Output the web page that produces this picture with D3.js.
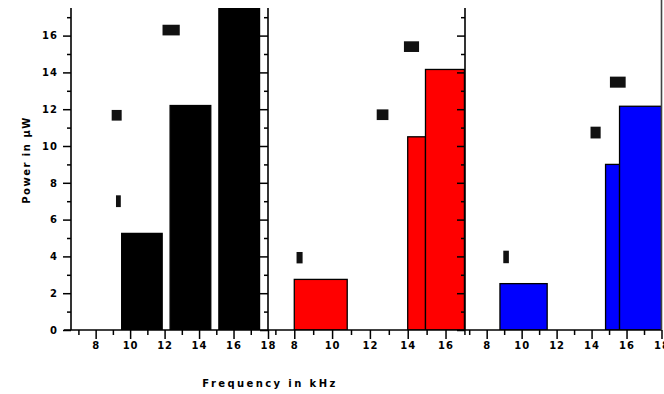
<!DOCTYPE html>
<html>
<head>
<meta charset="utf-8">
<script src="https://cdn.jsdelivr.net/npm/d3@7"></script>
<style>
  body { margin: 0; background: #fff; }
  svg { display: block; }
  .axis text { font-family: "DejaVu Sans", sans-serif; font-weight: bold; font-size: 10px; letter-spacing: 1px; fill: #000; }
  .axis path, .axis line { stroke: #000; stroke-width: 1.5; }
  .title { font-family: "DejaVu Sans", sans-serif; font-weight: bold; font-size: 10px; letter-spacing: 2.4px; fill: #000; }
</style>
</head>
<body>
<div id="chart"></div>
<script>
// y axis (power, µW)
var yMajor = [0, 2, 4, 6, 8, 10, 12, 14, 16];
var yMinor = [1, 3, 5, 7, 9, 11, 13, 15, 17];
var yDomain = [0, 17.5];

// x axis (frequency, kHz) for each of the three panels
var xDomainA = [6.57, 18.0];
var xDomainB = [6.61, 17.03];
var xDomainC = [6.76, 18.0];
var xMajorA = [8, 10, 12, 14, 16, 18];
var xMajorB = [8, 10, 12, 14, 16];
var xMajorC = [8, 10, 12, 14, 16, 18];
var xMinor = [7, 9, 11, 13, 15, 17];

// bars: frequency from / to, power
var barLoA = [9.51, 12.32, 15.15];
var barHiA = [11.86, 14.68, 17.51];
var barValA = [5.25, 12.2, 19];

var barLoB = [8.0, 14.0, 14.94];
var barHiB = [10.8, 14.94, 17.0];
var barValB = [2.75, 10.5, 14.16];

var barLoC = [8.76, 14.8, 15.6];
var barHiC = [11.46, 15.6, 18.0];
var barValC = [2.52, 9.0, 12.16];

// black markers: centre frequency, half span, centre power, half span
var mkXA = [9.22, 9.32, 12.38];
var mkDxA = [0.29, 0.14, 0.5];
var mkYA = [11.67, 7.0, 16.3];
var mkDyA = [0.29, 0.32, 0.29];

var mkXB = [12.67, 8.28, 14.2];
var mkDxB = [0.31, 0.16, 0.4];
var mkYB = [11.7, 3.93, 15.4];
var mkDyB = [0.29, 0.31, 0.29];

var mkXC = [14.23, 9.11, 15.5];
var mkDxC = [0.29, 0.16, 0.45];
var mkYC = [10.73, 3.97, 13.47];
var mkDyC = [0.32, 0.34, 0.3];

var width = 664, height = 394;
var plotTop = 8, plotBottom = 330;

var svg = d3.select("#chart").append("svg")
    .attr("width", width)
    .attr("height", height);

var y = d3.scaleLinear().domain(yDomain).range([plotBottom, plotTop]);

var panels = [
    { x0: 71, x1: 268, domain: xDomainA, major: xMajorA, color: "#000000",
      lo: barLoA, hi: barHiA, val: barValA, mx: mkXA, mdx: mkDxA, my: mkYA, mdy: mkDyA },
    { x0: 268, x1: 465, domain: xDomainB, major: xMajorB, color: "#ff0000",
      lo: barLoB, hi: barHiB, val: barValB, mx: mkXB, mdx: mkDxB, my: mkYB, mdy: mkDyB },
    { x0: 465, x1: 661.5, domain: xDomainC, major: xMajorC, color: "#0000ff",
      lo: barLoC, hi: barHiC, val: barValC, mx: mkXC, mdx: mkDxC, my: mkYC, mdy: mkDyC }
];

panels.forEach(function(p, i) {
    var x = d3.scaleLinear().domain(p.domain).range([p.x0, p.x1]);

    svg.append("clipPath").attr("id", "clip" + i)
        .append("rect")
        .attr("x", p.x0).attr("y", plotTop)
        .attr("width", p.x1 - p.x0).attr("height", plotBottom - plotTop);

    var bars = p.val.map(function(v, j) { return { lo: p.lo[j], hi: p.hi[j], v: v }; });
    svg.append("g").attr("clip-path", "url(#clip" + i + ")")
        .selectAll("rect")
        .data(bars)
        .enter().append("rect")
        .attr("x", function(d) { return x(d.lo); })
        .attr("y", function(d) { return y(d.v); })
        .attr("width", function(d) { return x(d.hi) - x(d.lo); })
        .attr("height", function(d) { return y(0) - y(d.v); })
        .attr("fill", p.color)
        .attr("stroke", "#000")
        .attr("stroke-width", 1.3);

    var marks = p.mx.map(function(v, j) { return { x: v, dx: p.mdx[j], y: p.my[j], dy: p.mdy[j] }; });
    svg.append("g")
        .selectAll("rect")
        .data(marks)
        .enter().append("rect")
        .attr("x", function(d) { return x(d.x - d.dx); })
        .attr("y", function(d) { return y(d.y + d.dy); })
        .attr("width", function(d) { return x(d.x + d.dx) - x(d.x - d.dx); })
        .attr("height", function(d) { return y(d.y - d.dy) - y(d.y + d.dy); })
        .attr("fill", "#111");

    // bottom ticks
    var gx = svg.append("g").attr("class", "axis")
        .attr("transform", "translate(0," + plotBottom + ")")
        .call(d3.axisBottom(x).tickValues(p.major).tickSize(9).tickPadding(3).tickFormat(d3.format("d")));
    gx.select(".domain").remove();
    var gxm = svg.append("g").attr("class", "axis")
        .attr("transform", "translate(0," + plotBottom + ")")
        .call(d3.axisBottom(x).tickValues(xMinor).tickSize(5).tickFormat(""));
    gxm.select(".domain").remove();

    // inward ticks on the right edge of the first two panels
    if (i < 2) {
        var gr = svg.append("g").attr("class", "axis")
            .attr("transform", "translate(" + p.x1 + ",0)")
            .call(d3.axisLeft(y).tickValues(yMajor).tickSize(8).tickFormat(""));
        gr.select(".domain").remove();
        var grm = svg.append("g").attr("class", "axis")
            .attr("transform", "translate(" + p.x1 + ",0)")
            .call(d3.axisLeft(y).tickValues(yMinor).tickSize(4).tickFormat(""));
        grm.select(".domain").remove();
    }
});

// left y axis
var gy = svg.append("g").attr("class", "axis")
    .attr("transform", "translate(71,0)")
    .call(d3.axisLeft(y).tickValues(yMajor).tickSize(8).tickPadding(5));
gy.select(".domain").remove();
var gym = svg.append("g").attr("class", "axis")
    .attr("transform", "translate(71,0)")
    .call(d3.axisLeft(y).tickValues(yMinor).tickSize(4).tickFormat(""));
gym.select(".domain").remove();

// frame lines
var frame = svg.append("g").attr("stroke", "#000").attr("stroke-width", 1.6);
frame.append("line").attr("x1", 64).attr("x2", 662).attr("y1", plotBottom).attr("y2", plotBottom);
frame.append("line").attr("x1", 71).attr("x2", 71).attr("y1", plotTop).attr("y2", plotBottom);
frame.append("line").attr("x1", 268).attr("x2", 268).attr("y1", plotTop).attr("y2", plotBottom);
frame.append("line").attr("x1", 465).attr("x2", 465).attr("y1", plotTop).attr("y2", plotBottom);
frame.append("line").attr("x1", 661.5).attr("x2", 661.5).attr("y1", 0).attr("y2", plotBottom)
    .attr("stroke", "#444");

// axis titles
svg.append("text").attr("class", "title")
    .attr("x", 270).attr("y", 387)
    .attr("text-anchor", "middle")
    .text("Frequency in kHz");

svg.append("text").attr("class", "title")
    .attr("transform", "translate(30,160) rotate(-90)")
    .attr("text-anchor", "middle")
    .style("letter-spacing", "1.5px")
    .text("Power in \u03bcW");
</script>
</body>
</html>
